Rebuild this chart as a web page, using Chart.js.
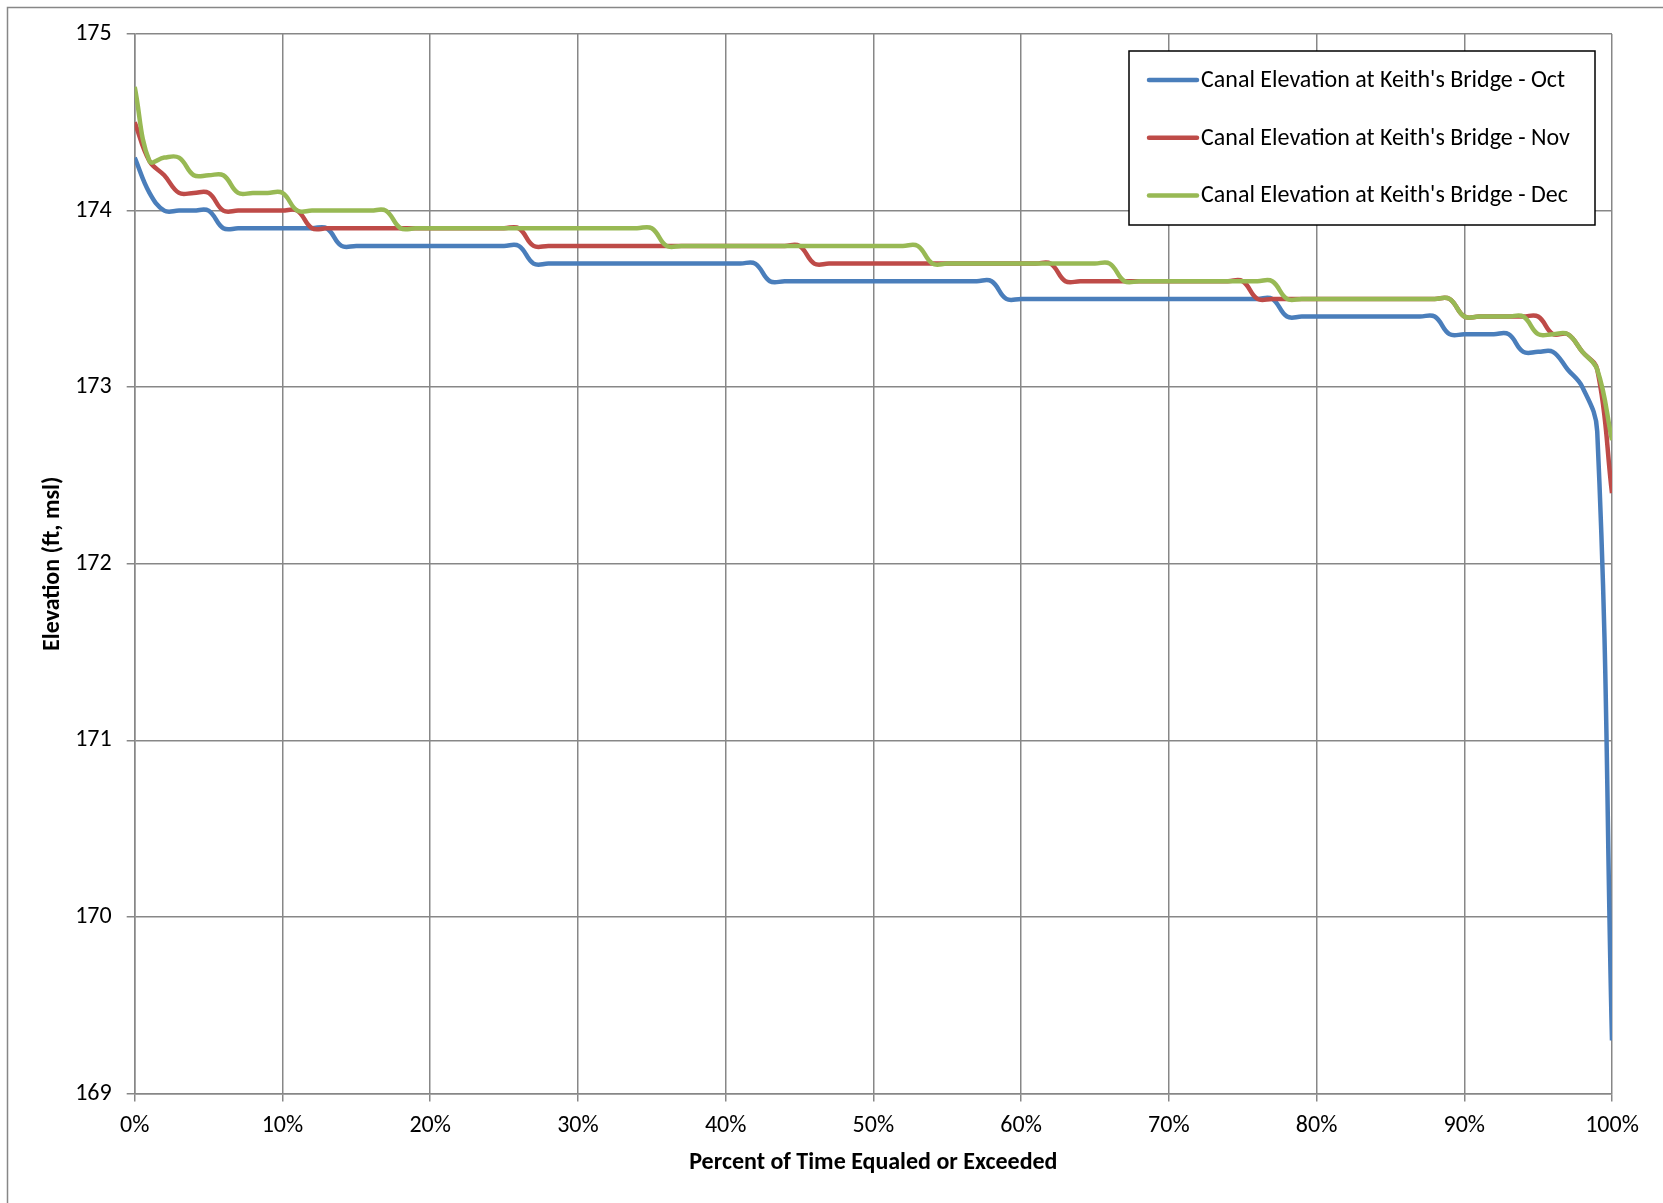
<!DOCTYPE html>
<html>
<head>
<meta charset="utf-8">
<title>Canal Elevation at Keith's Bridge</title>
<script src="https://cdn.jsdelivr.net/npm/chart.js@4.4.1/dist/chart.umd.min.js"></script>
<style>
  html, body { margin: 0; padding: 0; background: #fff; }
  canvas { display: block; }
</style>
</head>
<body>
<canvas id="elevChart" width="1663" height="1203"></canvas>
<script>
// percent of time equaled or exceeded (x)
const pctTime = [
  0, 1, 2, 3, 4, 5, 6, 7, 8, 9, 10, 11, 12, 13, 14, 15, 16, 17, 18, 19,
  20, 21, 22, 23, 24, 25, 26, 27, 28, 29, 30, 31, 32, 33, 34, 35, 36, 37, 38, 39,
  40, 41, 42, 43, 44, 45, 46, 47, 48, 49, 50, 51, 52, 53, 54, 55, 56, 57, 58, 59,
  60, 61, 62, 63, 64, 65, 66, 67, 68, 69, 70, 71, 72, 73, 74, 75, 76, 77, 78, 79,
  80, 81, 82, 83, 84, 85, 86, 87, 88, 89, 90, 91, 92, 93, 94, 95, 96, 97, 98, 99, 100
];

// elevation, ft msl
const octElev = [
  174.3, 174.1, 174.0, 174.0, 174.0, 174.0, 173.9, 173.9, 173.9, 173.9,
  173.9, 173.9, 173.9, 173.9, 173.8, 173.8, 173.8, 173.8, 173.8, 173.8,
  173.8, 173.8, 173.8, 173.8, 173.8, 173.8, 173.8, 173.7, 173.7, 173.7,
  173.7, 173.7, 173.7, 173.7, 173.7, 173.7, 173.7, 173.7, 173.7, 173.7,
  173.7, 173.7, 173.7, 173.6, 173.6, 173.6, 173.6, 173.6, 173.6, 173.6,
  173.6, 173.6, 173.6, 173.6, 173.6, 173.6, 173.6, 173.6, 173.6, 173.5,
  173.5, 173.5, 173.5, 173.5, 173.5, 173.5, 173.5, 173.5, 173.5, 173.5,
  173.5, 173.5, 173.5, 173.5, 173.5, 173.5, 173.5, 173.5, 173.4, 173.4,
  173.4, 173.4, 173.4, 173.4, 173.4, 173.4, 173.4, 173.4, 173.4, 173.3,
  173.3, 173.3, 173.3, 173.3, 173.2, 173.2, 173.2, 173.1, 173.0, 172.75,
  169.3
];

const novElev = [
  174.5, 174.28, 174.2, 174.1, 174.1, 174.1, 174.0, 174.0, 174.0, 174.0,
  174.0, 174.0, 173.9, 173.9, 173.9, 173.9, 173.9, 173.9, 173.9, 173.9,
  173.9, 173.9, 173.9, 173.9, 173.9, 173.9, 173.9, 173.8, 173.8, 173.8,
  173.8, 173.8, 173.8, 173.8, 173.8, 173.8, 173.8, 173.8, 173.8, 173.8,
  173.8, 173.8, 173.8, 173.8, 173.8, 173.8, 173.7, 173.7, 173.7, 173.7,
  173.7, 173.7, 173.7, 173.7, 173.7, 173.7, 173.7, 173.7, 173.7, 173.7,
  173.7, 173.7, 173.7, 173.6, 173.6, 173.6, 173.6, 173.6, 173.6, 173.6,
  173.6, 173.6, 173.6, 173.6, 173.6, 173.6, 173.5, 173.5, 173.5, 173.5,
  173.5, 173.5, 173.5, 173.5, 173.5, 173.5, 173.5, 173.5, 173.5, 173.5,
  173.4, 173.4, 173.4, 173.4, 173.4, 173.4, 173.3, 173.3, 173.2, 173.1,
  172.4
];

const decElev = [
  174.7, 174.28, 174.3, 174.3, 174.2, 174.2, 174.2, 174.1, 174.1, 174.1,
  174.1, 174.0, 174.0, 174.0, 174.0, 174.0, 174.0, 174.0, 173.9, 173.9,
  173.9, 173.9, 173.9, 173.9, 173.9, 173.9, 173.9, 173.9, 173.9, 173.9,
  173.9, 173.9, 173.9, 173.9, 173.9, 173.9, 173.8, 173.8, 173.8, 173.8,
  173.8, 173.8, 173.8, 173.8, 173.8, 173.8, 173.8, 173.8, 173.8, 173.8,
  173.8, 173.8, 173.8, 173.8, 173.7, 173.7, 173.7, 173.7, 173.7, 173.7,
  173.7, 173.7, 173.7, 173.7, 173.7, 173.7, 173.7, 173.6, 173.6, 173.6,
  173.6, 173.6, 173.6, 173.6, 173.6, 173.6, 173.6, 173.6, 173.5, 173.5,
  173.5, 173.5, 173.5, 173.5, 173.5, 173.5, 173.5, 173.5, 173.5, 173.5,
  173.4, 173.4, 173.4, 173.4, 173.4, 173.3, 173.3, 173.3, 173.2, 173.1,
  172.7
];

const seriesNames = [
  "Canal Elevation at Keith's Bridge - Oct",
  "Canal Elevation at Keith's Bridge - Nov",
  "Canal Elevation at Keith's Bridge - Dec"
];
const seriesColors = ['#4a7ebb', '#be4b48', '#98b954'];

const xTitle = 'Percent of Time Equaled or Exceeded';
const yTitle = 'Elevation (ft, msl)';

const FONT = 'Calibri, Carlito, Lato, sans-serif';
const FSIZE = 24;
const GRID = '#878787';

function toPoints(vals) {
  return vals.map((v, i) => ({x: pctTime[i], y: v}));
}

// excel-like frame + legend box in the upper right of the plot
const excelBits = {
  id: 'excelBits',
  afterDraw(chart) {
    const c = chart.ctx;
    const area = chart.chartArea;
    c.save();
    // outer chart border (only top/left fall inside the picture)
    c.strokeStyle = GRID;
    c.lineWidth = 1.5;
    c.strokeRect(7.5, 7.5, 3000, 3000);

    const boxW = 466, boxH = 174;
    const bx = area.right - 17 - boxW;
    const by = area.top + 17;
    c.fillStyle = '#fff';
    c.fillRect(bx, by, boxW, boxH);
    c.strokeStyle = '#000';
    c.lineWidth = 1.5;
    c.strokeRect(bx, by, boxW, boxH);

    c.font = FSIZE + 'px ' + FONT;
    c.textBaseline = 'middle';
    c.textAlign = 'left';
    seriesNames.forEach((name, i) => {
      const ry = by + 29 + i * 57.7;
      c.strokeStyle = seriesColors[i];
      c.lineWidth = 4.5;
      c.lineCap = 'round';
      c.beginPath();
      c.moveTo(bx + 20, ry);
      c.lineTo(bx + 68, ry);
      c.stroke();
      c.fillStyle = '#000';
      c.fillText(name, bx + 72, ry + 1);
    });
    c.restore();
  }
};

const ctx = document.getElementById('elevChart').getContext('2d');
const elevChart = new Chart(ctx, {
  type: 'line',
  data: {
    datasets: [
      {label: seriesNames[0], data: toPoints(octElev), borderColor: seriesColors[0], order: 3},
      {label: seriesNames[1], data: toPoints(novElev), borderColor: seriesColors[1], order: 2},
      {label: seriesNames[2], data: toPoints(decElev), borderColor: seriesColors[2], order: 1}
    ]
  },
  options: {
    responsive: false,
    animation: false,
    layout: {padding: {top: 34, right: 51, left: 0, bottom: 0}},
    elements: {
      line: {tension: 0.4, borderWidth: 4.5, fill: false},
      point: {radius: 0, hoverRadius: 0}
    },
    plugins: {
      legend: {display: false},
      tooltip: {enabled: false}
    },
    scales: {
      x: {
        type: 'linear',
        min: 0,
        max: 100,
        ticks: {
          stepSize: 10,
          callback: v => v + '%',
          color: '#000',
          font: {family: FONT, size: FSIZE},
          padding: 10,
          maxRotation: 0
        },
        grid: {color: GRID, lineWidth: 1.5, tickLength: 8},
        border: {color: GRID, width: 1.5},
        title: {
          display: true,
          text: xTitle,
          color: '#000',
          font: {family: FONT, size: FSIZE, weight: 'bold'},
          padding: {bottom: 26}
        },
        afterFit: s => { s.height = 109.5; }
      },
      y: {
        min: 169,
        max: 175,
        ticks: {
          stepSize: 1,
          color: '#000',
          font: {family: FONT, size: FSIZE},
          padding: 15
        },
        grid: {color: GRID, lineWidth: 1.5, tickLength: 8},
        border: {color: GRID, width: 1.5},
        title: {
          display: true,
          text: yTitle,
          color: '#000',
          font: {family: FONT, size: FSIZE, weight: 'bold'},
          padding: {top: 39}
        },
        afterFit: s => { s.width = 134.7; }
      }
    }
  },
  plugins: [excelBits]
});
</script>
</body>
</html>
